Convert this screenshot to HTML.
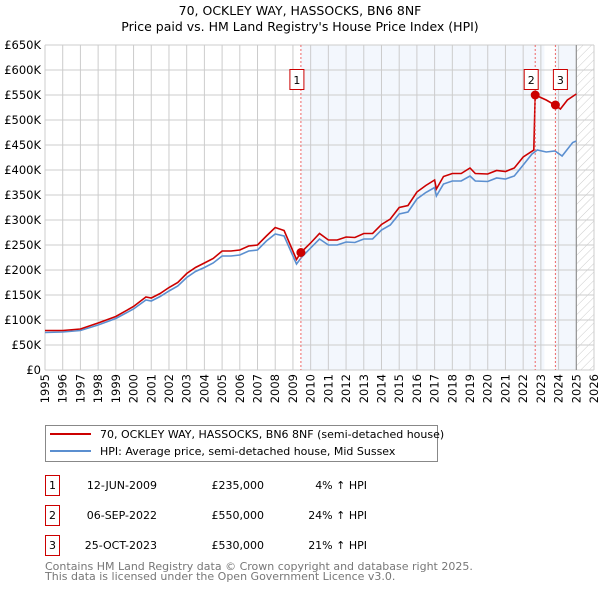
<!DOCTYPE html>
<html><head><meta charset="utf-8"><style>
body{margin:0;background:#fff;font-family:"Liberation Sans","DejaVu Sans",sans-serif}
svg text{font-family:"DejaVu Sans","Liberation Sans",sans-serif}
</style></head><body>
<svg id="chart" width="600" height="590" xmlns="http://www.w3.org/2000/svg">
<defs><pattern id="hatch" width="6" height="6" patternUnits="userSpaceOnUse" patternTransform="rotate(45)"><line x1="0" y1="0" x2="0" y2="6" stroke="#ccc" stroke-width="1"/></pattern></defs>
<text x="300" y="15" text-anchor="middle" font-size="12.5">70, OCKLEY WAY, HASSOCKS, BN6 8NF</text>
<text x="300" y="31" text-anchor="middle" font-size="12.5">Price paid vs. HM Land Registry's House Price Index (HPI)</text>
<g id="shade"></g><g id="grid"></g><g id="axes"></g><g id="series"></g><g id="marks"></g>
<g>
<rect x="45.5" y="425.5" width="392" height="36" fill="#fff" stroke="#888"/>
<line x1="50" y1="434" x2="91" y2="434" stroke="#cc0000" stroke-width="2"/>
<text x="100" y="438" font-size="11">70, OCKLEY WAY, HASSOCKS, BN6 8NF (semi-detached house)</text>
<line x1="50" y1="451" x2="91" y2="451" stroke="#5b8fd0" stroke-width="2"/>
<text x="100" y="455" font-size="11">HPI: Average price, semi-detached house, Mid Sussex</text>
</g>
<g id="table" font-size="11"></g>
<text x="45" y="570" font-size="11" fill="#777">Contains HM Land Registry data © Crown copyright and database right 2025.</text>
<text x="45" y="580" font-size="11" fill="#777">This data is licensed under the Open Government Licence v3.0.</text>
</svg>
<script>
const yTicks=[0,50,100,150,200,250,300,350,400,450,500,550,600,650];
const years=[1995,1996,1997,1998,1999,2000,2001,2002,2003,2004,2005,2006,2007,2008,2009,2010,2011,2012,2013,2014,2015,2016,2017,2018,2019,2020,2021,2022,2023,2024,2025,2026];
const hpiT=[1995,1996,1997,1998,1999,2000,2000.7,2001,2001.5,2002,2002.5,2003,2003.5,2004,2004.5,2005,2005.5,2006,2006.5,2007,2007.5,2008,2008.5,2009.2,2009.5,2010,2010.5,2011,2011.5,2012,2012.5,2013,2013.5,2014,2014.5,2015,2015.5,2016,2016.5,2017,2017.1,2017.5,2018,2018.5,2019,2019.3,2020,2020.5,2021,2021.5,2022,2022.5,2022.8,2023.3,2023.8,2024.2,2024.8,2025];
const hpiV=[75,76,79,90,103,122,140,138,147,158,168,185,197,205,214,228,228,230,238,240,258,272,268,212,226,244,262,250,250,256,255,262,262,280,290,312,316,342,355,365,348,372,378,378,388,378,377,384,382,388,410,432,440,436,438,428,455,458];
const redT=[1995,1996,1997,1998,1999,2000,2000.7,2001,2001.5,2002,2002.5,2003,2003.5,2004,2004.5,2005,2005.5,2006,2006.5,2007,2007.5,2008,2008.5,2009.2,2009.45,2010,2010.5,2011,2011.5,2012,2012.5,2013,2013.5,2014,2014.5,2015,2015.5,2016,2016.5,2017,2017.1,2017.5,2018,2018.5,2019,2019.3,2020,2020.5,2021,2021.5,2022,2022.6,2022.68,2023.3,2023.8,2024.1,2024.5,2025];
const redV=[79,79,82,94,107,127,146,144,153,165,175,193,205,214,223,238,238,240,248,250,268,285,279,221,235,254,273,260,260,266,265,273,273,291,302,325,329,356,369,380,362,387,393,393,404,393,392,399,397,404,426,440,550,540,530,522,540,552];
const saleLabels=["1","2","3"];
const saleT=[2009.45,2022.68,2023.82];
const saleV=[235,550,530];
const saleDates=["12-JUN-2009","06-SEP-2022","25-OCT-2023"];
const salePrices=["£235,000","£550,000","£530,000"];
const salePct=["4% ↑ HPI","24% ↑ HPI","21% ↑ HPI"];
const X0=45,X1=594,Y0=370,Y1=45;
const x=t=>X0+(t-1995)*(X1-X0)/31;
const y=v=>Y0-v*(Y0-Y1)/650;
const NS="http://www.w3.org/2000/svg";
function mk(tag,attrs,parent,txt){const e=document.createElementNS(NS,tag);for(const k in attrs)e.setAttribute(k,attrs[k]);if(txt!==undefined)e.textContent=txt;document.getElementById(parent).appendChild(e);return e;}
let e;
e=mk('rect',{x:x(saleT[0]),y:Y1,width:x(2023.2)-x(saleT[0]),height:Y0-Y1,fill:'#eef3fc',opacity:0.7},'shade');


e=mk('rect',{x:x(saleT[2]),y:Y1,width:x(2025)-x(saleT[2]),height:Y0-Y1,fill:'#eef3fc',opacity:0.7},'shade');


e=mk('rect',{x:x(2025),y:Y1,width:X1-x(2025),height:Y0-Y1,fill:'url(#hatch)'},'shade');


yTicks.forEach(v=>{
 e=mk('line',{x1:X0,x2:X1,y1:y(v),y2:y(v),stroke:'#ccc','stroke-width':1},'grid');
 
 
 e=mk('text',{x:41,y:y(v)+4,'text-anchor':'end','font-size':11.5},'axes',v===0?'£0':'£'+v+'K');
 
 
});
years.forEach(t=>{
 e=mk('line',{x1:x(t),x2:x(t),y1:Y1,y2:Y0,stroke:'#ccc','stroke-width':1},'grid');
 
 
 e=mk('text',{x:0,y:0,'text-anchor':'end','font-size':11.5,transform:`translate(${x(t)+4},${Y0+4}) rotate(-90)`},'axes',String(t));
 
 
});
e=mk('line',{x1:x(2025),x2:x(2025),y1:Y1,y2:Y0,stroke:'#888','stroke-width':1},'grid');


saleT.forEach((t,i)=>{
 e=mk('line',{x1:x(t),x2:x(t),y1:Y1,y2:Y0,stroke:'#e66','stroke-width':1,'stroke-dasharray':'2,2'},'marks');
 
 
});
const path=(T,V)=>T.map((t,i)=>(i?'L':'M')+x(t).toFixed(1)+','+y(V[i]).toFixed(1)).join('');
e=mk('path',{d:path(hpiT,hpiV),fill:'none',stroke:'#5b8fd0','stroke-width':1.6},'series');


e=mk('path',{d:path(redT,redV),fill:'none',stroke:'#cc0000','stroke-width':1.6},'series');


const bx=[x(saleT[0])-11,x(saleT[1])-11,x(saleT[2])-2];
saleT.forEach((t,i)=>{
 e=mk('circle',{cx:x(t),cy:y(saleV[i]),r:4.5,fill:'#cc0000'},'marks');
 
 
 e=mk('rect',{x:bx[i],y:69.5,width:14,height:20,fill:'#fff',stroke:'#cc0000'},'marks');
 
 
 e=mk('text',{x:bx[i]+7,y:84,'text-anchor':'middle','font-size':11},'marks',saleLabels[i]);
 
 
 const ry=475+30*i;
 e=mk('rect',{x:45.5,y:ry+0.5,width:14,height:20,fill:'#fff',stroke:'#cc0000'},'table');
 
 
 e=mk('text',{x:52.5,y:ry+14,'text-anchor':'middle'},'table',saleLabels[i]);
 
 
 e=mk('text',{x:157,y:ry+14,'text-anchor':'end'},'table',saleDates[i]);
 
 
 e=mk('text',{x:264,y:ry+14,'text-anchor':'end'},'table',salePrices[i]);
 
 
 e=mk('text',{x:367,y:ry+14,'text-anchor':'end'},'table',salePct[i]);
 
 
});
</script>
</body></html>
